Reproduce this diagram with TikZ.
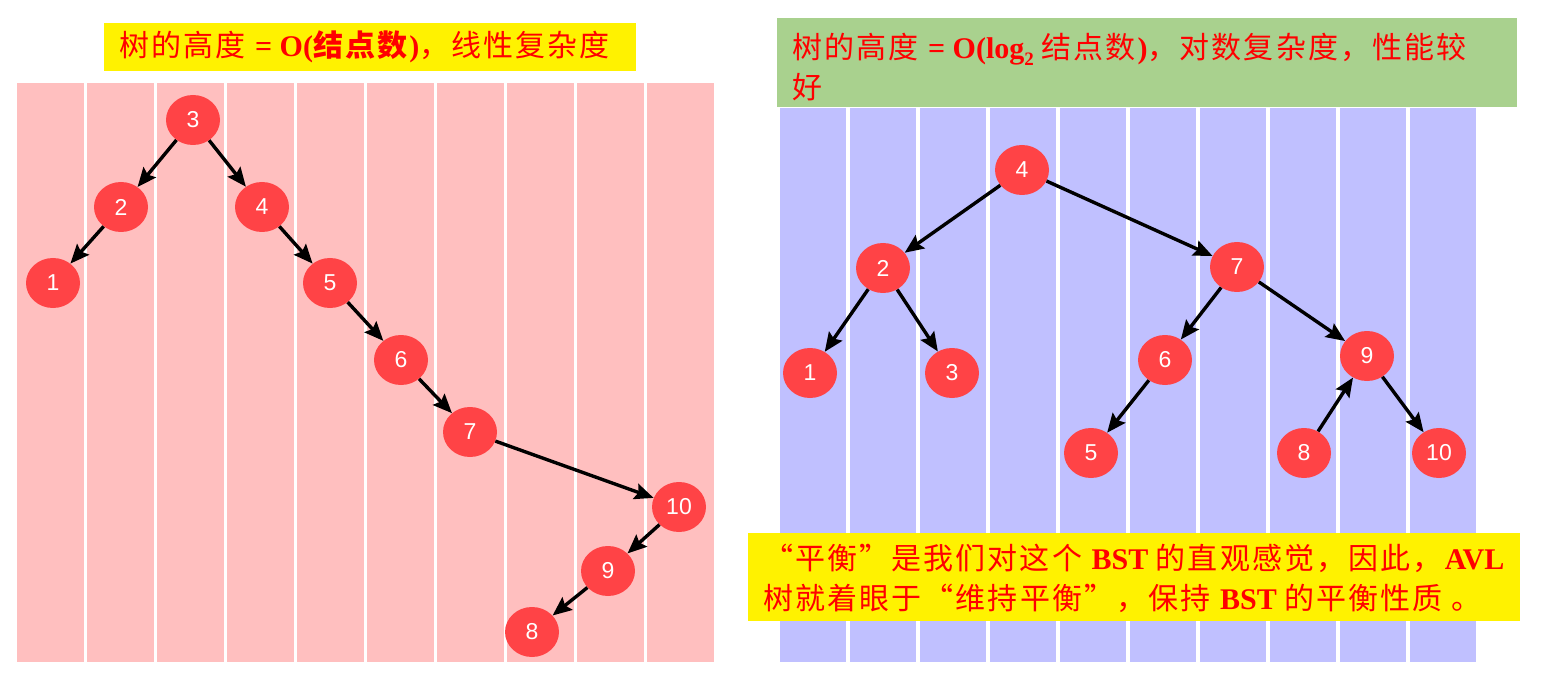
\documentclass[tikz,border=0pt]{standalone}
\usepackage{fontspec}
\setmainfont{Liberation Serif}
\newfontfamily\cjk[LetterSpace=7]{Noto Sans CJK SC}
\newfontfamily\numfont{Liberation Sans}
\usetikzlibrary{arrows.meta,shapes.geometric}
\definecolor{pinkcol}{RGB}{255,191,191}
\definecolor{bluecol}{RGB}{192,192,255}
\definecolor{greenbox}{RGB}{169,209,142}
\definecolor{nodered}{RGB}{255,67,70}
\definecolor{txtred}{RGB}{255,0,0}
\newcommand\zh[1]{{\cjk #1}}
\tikzset{
  treenode/.style={ellipse, fill=nodered, minimum width=54pt, minimum height=50pt, inner sep=0pt,
    text=white, font=\numfont\fontsize{23}{23}\selectfont},
  edge/.style={line width=3.4pt, -{Stealth[length=19pt,width=16pt,inset=3pt]}},
  boxtxt/.style={text=txtred, font=\fontsize{30}{40}\selectfont, inner sep=0pt, align=left},
}
\begin{document}
\begin{tikzpicture}[x=1pt,y=-1pt]
\useasboundingbox (0,0) rectangle (1555,676);
\fill[white] (0,0) rectangle (1555,676);
% columns
\foreach \i in {0,...,9}{
  \fill[pinkcol] ({17+70*\i},83) rectangle ({17+70*\i+66.5},662);
  \fill[bluecol] ({780+70*\i},108) rectangle ({780+70*\i+66},662);
}
% left title
\node[fill=yellow, minimum width=532pt, minimum height=48pt, anchor=north west, inner sep=0pt] (lbox) at (104,23) {};
\node[boxtxt, anchor=west] (ltext) at (119,47) {\zh{树的高度} \textbf{= O(}{\cjk\bfseries 结点数}\textbf{)}\zh{，线性复杂度}};
% right title
\node[fill=greenbox, minimum width=740pt, minimum height=89pt, anchor=north west, inner sep=0pt] (rbox) at (777,18) {};
\node[boxtxt, anchor=north west] (rtext) at (792,33) {\zh{树的高度} \textbf{= O(log\raisebox{-7pt}{\fontsize{19}{19}\selectfont 2}} \zh{结点数}\textbf{)}\zh{，对数复杂度，性能较}\\\zh{好}};
% bottom note
\node[fill=yellow, minimum width=772pt, minimum height=88pt, anchor=north west, inner sep=0pt] (bbox) at (748,533) {};
\node[boxtxt, anchor=north west] (btext) at (763,544) {\zh{“平衡”是我们对这个} \textbf{BST} \zh{的直观感觉，因此，}\textbf{AVL}\\\zh{树就着眼于“维持平衡”，保持} \textbf{BST} \zh{的平衡性质 。}};
% left tree
\node[treenode] (L3) at (193,120) {3};
\node[treenode] (L2) at (121,207) {2};
\node[treenode] (L4) at (262,207) {4};
\node[treenode] (L1) at (53,283) {1};
\node[treenode] (L5) at (330,283) {5};
\node[treenode] (L6) at (401,360) {6};
\node[treenode] (L7) at (470,432) {7};
\node[treenode] (L10) at (679,507) {10};
\node[treenode] (L9) at (608,571) {9};
\node[treenode] (L8) at (532,632) {8};
\draw[edge] (L3) -- (L2);
\draw[edge] (L3) -- (L4);
\draw[edge] (L2) -- (L1);
\draw[edge] (L4) -- (L5);
\draw[edge] (L5) -- (L6);
\draw[edge] (L6) -- (L7);
\draw[edge] (L7) -- (L10);
\draw[edge] (L10) -- (L9);
\draw[edge] (L9) -- (L8);
% right tree
\node[treenode] (R4) at (1022,170) {4};
\node[treenode] (R2) at (883,268) {2};
\node[treenode] (R7) at (1237,267) {7};
\node[treenode] (R1) at (810,373) {1};
\node[treenode] (R3) at (952,373) {3};
\node[treenode] (R6) at (1165,360) {6};
\node[treenode] (R9) at (1367,356) {9};
\node[treenode] (R5) at (1091,453) {5};
\node[treenode] (R8) at (1304,453) {8};
\node[treenode] (R10) at (1439,453) {10};
\draw[edge] (R4) -- (R2);
\draw[edge] (R4) -- (R7);
\draw[edge] (R2) -- (R1);
\draw[edge] (R2) -- (R3);
\draw[edge] (R7) -- (R6);
\draw[edge] (R7) -- (R9);
\draw[edge] (R6) -- (R5);
\draw[edge] (R8) -- (R9);
\draw[edge] (R9) -- (R10);
\end{tikzpicture}
\end{document}
